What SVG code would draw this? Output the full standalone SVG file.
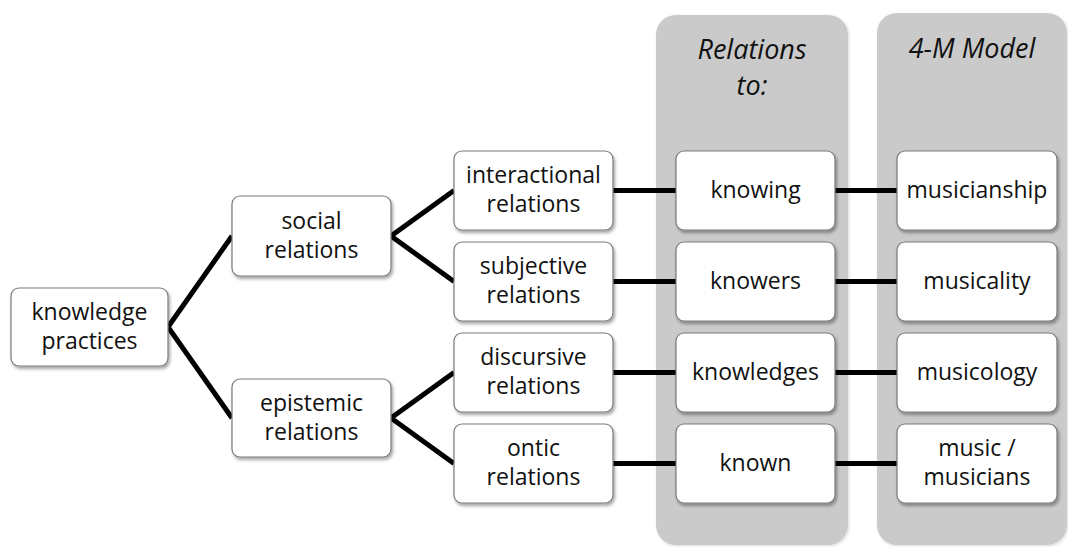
<svg xmlns="http://www.w3.org/2000/svg" width="1068" height="547" viewBox="0 0 1068 547">
  <style>
    .panel { fill: #cacaca; }
    .box { fill: #ffffff; stroke: #7a7a7a; stroke-width: 1.2; }
    .lbl { font-family: "Open Sans", "Liberation Sans", sans-serif; font-size: 23px; fill: #111111; text-anchor: middle; }
    .ttl { font-family: "Open Sans", "Liberation Sans", sans-serif; font-size: 27px; font-style: italic; fill: #111111; text-anchor: middle; }
    .wire { stroke: #000000; stroke-width: 5; fill: none; }
  </style>
  <defs>
    <filter id="shadow" x="-10%" y="-10%" width="125%" height="130%">
      <feDropShadow dx="1.5" dy="2.5" stdDeviation="1.8" flood-color="#000000" flood-opacity="0.35"/>
    </filter>
    <filter id="panelShadow" x="-10%" y="-5%" width="125%" height="115%">
      <feDropShadow dx="1" dy="1" stdDeviation="1.5" flood-color="#000000" flood-opacity="0.15"/>
    </filter>
  </defs>

  <!-- column panels -->
  <g id="panel-relations">
    <rect class="panel" x="656" y="15" width="192" height="530" rx="20" filter="url(#panelShadow)"/>
    <text class="ttl" x="752" y="59">Relations</text>
    <text class="ttl" x="752" y="95">to:</text>
  </g>
  <g id="panel-4m">
    <rect class="panel" x="877" y="13" width="190" height="532" rx="20" filter="url(#panelShadow)"/>
    <text class="ttl" x="972" y="58">4-M Model</text>
  </g>

  <!-- connectors -->
  <g id="connectors">
    <polyline class="wire" points="232,236 168,327 232,418"/>
    <polyline class="wire" points="454,190.5 391,236 454,281.5"/>
    <polyline class="wire" points="454,372.5 391,418 454,463.5"/>
    <line class="wire" x1="613" y1="190.5" x2="676" y2="190.5"/>
    <line class="wire" x1="613" y1="281.5" x2="676" y2="281.5"/>
    <line class="wire" x1="613" y1="372.5" x2="676" y2="372.5"/>
    <line class="wire" x1="613" y1="463.5" x2="676" y2="463.5"/>
    <line class="wire" x1="835" y1="190.5" x2="897" y2="190.5"/>
    <line class="wire" x1="835" y1="281.5" x2="897" y2="281.5"/>
    <line class="wire" x1="835" y1="372.5" x2="897" y2="372.5"/>
    <line class="wire" x1="835" y1="463.5" x2="897" y2="463.5"/>
  </g>

  <!-- root -->
  <g id="knowledge-practices">
    <rect class="box" x="11" y="288" width="157" height="78" rx="8" filter="url(#shadow)"/>
    <text class="lbl" x="89.5" y="320">knowledge</text>
    <text class="lbl" x="89.5" y="349">practices</text>
  </g>

  <!-- second level -->
  <g id="social-relations">
    <rect class="box" x="232" y="196" width="159" height="80" rx="8" filter="url(#shadow)"/>
    <text class="lbl" x="311.5" y="228.5">social</text>
    <text class="lbl" x="311.5" y="257.5">relations</text>
  </g>
  <g id="epistemic-relations">
    <rect class="box" x="232" y="379" width="159" height="78" rx="8" filter="url(#shadow)"/>
    <text class="lbl" x="311.5" y="410.5">epistemic</text>
    <text class="lbl" x="311.5" y="439.5">relations</text>
  </g>

  <!-- third level -->
  <g id="interactional-relations">
    <rect class="box" x="454" y="151" width="159" height="79" rx="8" filter="url(#shadow)"/>
    <text class="lbl" x="533.5" y="183">interactional</text>
    <text class="lbl" x="533.5" y="212">relations</text>
  </g>
  <g id="subjective-relations">
    <rect class="box" x="454" y="242" width="159" height="79" rx="8" filter="url(#shadow)"/>
    <text class="lbl" x="533.5" y="274">subjective</text>
    <text class="lbl" x="533.5" y="303">relations</text>
  </g>
  <g id="discursive-relations">
    <rect class="box" x="454" y="333" width="159" height="79" rx="8" filter="url(#shadow)"/>
    <text class="lbl" x="533.5" y="365">discursive</text>
    <text class="lbl" x="533.5" y="394">relations</text>
  </g>
  <g id="ontic-relations">
    <rect class="box" x="454" y="424" width="159" height="79" rx="8" filter="url(#shadow)"/>
    <text class="lbl" x="533.5" y="456">ontic</text>
    <text class="lbl" x="533.5" y="485">relations</text>
  </g>

  <!-- relations to -->
  <g id="knowing">
    <rect class="box" x="676" y="151" width="159" height="79" rx="8" filter="url(#shadow)"/>
    <text class="lbl" x="755.5" y="198">knowing</text>
  </g>
  <g id="knowers">
    <rect class="box" x="676" y="242" width="159" height="79" rx="8" filter="url(#shadow)"/>
    <text class="lbl" x="755.5" y="289">knowers</text>
  </g>
  <g id="knowledges">
    <rect class="box" x="676" y="333" width="159" height="79" rx="8" filter="url(#shadow)"/>
    <text class="lbl" x="755.5" y="380">knowledges</text>
  </g>
  <g id="known">
    <rect class="box" x="676" y="424" width="159" height="79" rx="8" filter="url(#shadow)"/>
    <text class="lbl" x="755.5" y="471">known</text>
  </g>

  <!-- 4-M model -->
  <g id="musicianship">
    <rect class="box" x="897" y="151" width="160" height="79" rx="8" filter="url(#shadow)"/>
    <text class="lbl" x="977" y="198">musicianship</text>
  </g>
  <g id="musicality">
    <rect class="box" x="897" y="242" width="160" height="79" rx="8" filter="url(#shadow)"/>
    <text class="lbl" x="977" y="289">musicality</text>
  </g>
  <g id="musicology">
    <rect class="box" x="897" y="333" width="160" height="79" rx="8" filter="url(#shadow)"/>
    <text class="lbl" x="977" y="380">musicology</text>
  </g>
  <g id="music-musicians">
    <rect class="box" x="897" y="424" width="160" height="79" rx="8" filter="url(#shadow)"/>
    <text class="lbl" x="977" y="456">music /</text>
    <text class="lbl" x="977" y="485">musicians</text>
  </g>
</svg>
